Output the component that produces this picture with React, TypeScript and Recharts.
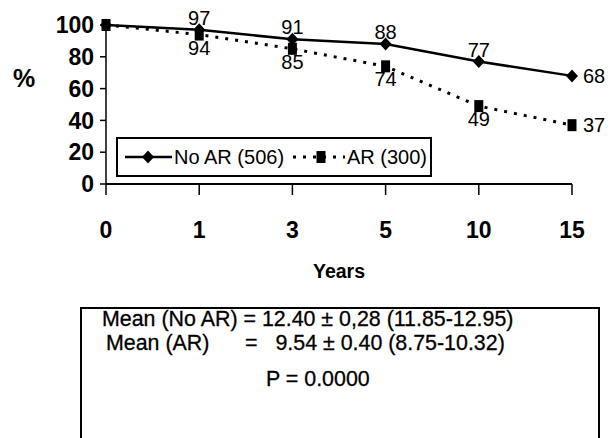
import React from "react";
import { LineChart, Line, XAxis, YAxis, Legend, LabelList } from "recharts";

const years = ["0", "1", "3", "5", "10", "15"];
const noAR = [100, 97, 91, 88, 77, 68];
const ar = [100, 94, 85, 74, 49, 37];
const yTicks = [0, 20, 40, 60, 80, 100];
const seriesNames = ["No AR (506)", "AR (300)"];
const statLines = [
  "Mean (No AR) = 12.40 \u00b1 0,28 (11.85-12.95)",
  "Mean (AR)      =   9.54 \u00b1 0.40 (8.75-10.32)",
  "P = 0.0000",
];

const data = years.map((y, i) => ({ year: y, noAR: noAR[i], ar: ar[i] }));

const FONT = "'Liberation Sans', Arial, sans-serif";

const Diamond = (props: any) => {
  const { cx, cy, index } = props;
  if (cx == null || cy == null) return <g key={`d-${index}`} />;
  return (
    <path
      key={`d-${index}`}
      d={`M${cx},${cy - 6.5} L${cx + 6},${cy} L${cx},${cy + 6.5} L${cx - 6},${cy} Z`}
      fill="#000"
    />
  );
};

const Square = (props: any) => {
  const { cx, cy, index } = props;
  if (cx == null || cy == null) return <g key={`s-${index}`} />;
  return <rect key={`s-${index}`} x={cx - 4.5} y={cy - 6} width={9} height={12} fill="#000" />;
};

const makeLabel = (below: boolean) => (props: any) => {
  const { x, y, value, index } = props;
  const last = years.length - 1;
  if (index === 0) return null;
  const common = {
    fontFamily: FONT,
    fontSize: 20,
    fill: "#000",
    dominantBaseline: "central" as const,
  };
  if (index === last) {
    return (
      <text x={x + 11} y={y} textAnchor="start" {...common}>
        {value}
      </text>
    );
  }
  return (
    <text x={x} y={below ? y + 13 : y - 12} textAnchor="middle" {...common}>
      {value}
    </text>
  );
};

const renderLegend = (props: any) => {
  const payload = props.payload || [];
  return (
    <div
      style={{
        width: 312,
        height: 36,
        border: "2px solid #000",
        background: "#fff",
        position: "relative",
        fontFamily: FONT,
        fontSize: 20,
      }}
    >
      <svg width={312} height={36} style={{ position: "absolute", left: 0, top: 0 }}>
        {payload.map((entry: any, i: number) => {
          const isAR = entry.dataKey === "ar";
          const x0 = isAR ? 175 : 7;
          const cy = 18;
          return (
            <g key={i}>
              {isAR ? (
                <>
                  <line x1={x0} y1={cy} x2={x0 + 52} y2={cy} stroke="#000" strokeWidth={3} strokeDasharray="3 7" />
                  <rect x={x0 + 23.5} y={cy - 6} width={9} height={12} fill="#000" />
                </>
              ) : (
                <>
                  <line x1={x0} y1={cy} x2={x0 + 47} y2={cy} stroke="#000" strokeWidth={2.5} />
                  <path d={`M${x0 + 23},${cy - 6.5} L${x0 + 29},${cy} L${x0 + 23},${cy + 6.5} L${x0 + 17},${cy} Z`} fill="#000" />
                </>
              )}
              <text
                x={isAR ? x0 + 54 : x0 + 49}
                y={cy}
                dominantBaseline="central"
                fontFamily={FONT}
                fontSize={20}
                fill="#000"
              >
                {entry.value}
              </text>
            </g>
          );
        })}
      </svg>
    </div>
  );
};

export default function App() {
  return (
    <div
      style={{
        position: "absolute",
        left: 0,
        top: 0,
        width: 616,
        height: 438,
        background: "#fff",
        overflow: "hidden",
      }}
    >
      <LineChart
        width={616}
        height={438}
        data={data}
        margin={{ top: 25, right: 44, left: 0, bottom: 158 }}
      >
        <XAxis
          dataKey="year"
          height={96}
          axisLine={{ stroke: "#000", strokeWidth: 2 }}
          tickLine={{ stroke: "#000", strokeWidth: 1.5 }}
          tickSize={11}
          tickMargin={27}
          tick={{ fontFamily: FONT, fontSize: 23, fontWeight: "bold", fill: "#000" }}
          interval={0}
          label={{
            value: "Years",
            position: "insideBottom",
            offset: 2,
            style: { fontFamily: FONT, fontSize: 19.5, fontWeight: "bold", fill: "#000" },
          }}
        />
        <YAxis
          width={106}
          domain={[0, 100]}
          ticks={yTicks}
          interval={0}
          axisLine={{ stroke: "#000", strokeWidth: 1.5 }}
          tickLine={{ stroke: "#000", strokeWidth: 1.5 }}
          tickSize={6}
          tickMargin={6}
          tick={{ fontFamily: FONT, fontSize: 23, fontWeight: "bold", fill: "#000" }}
          label={(p: any) => {
            const vb = p.viewBox || { x: 0, y: 25, height: 159 };
            return (
              <text
                x={vb.x + 13}
                y={vb.y + vb.height * 0.335}
                dominantBaseline="central"
                fontFamily={FONT}
                fontSize={25}
                fontWeight="bold"
                fill="#000"
              >
                %
              </text>
            );
          }}
        />
        <Legend
          layout="vertical"
          align="center"
          verticalAlign="middle"
          content={renderLegend}
          wrapperStyle={{ position: "absolute", left: 116, top: 137, width: 316, height: 40 }}
        />
        <Line
          name={seriesNames[0]}
          dataKey="noAR"
          stroke="#000"
          strokeWidth={2.5}
          dot={Diamond}
          activeDot={false}
          isAnimationActive={false}
        >
          <LabelList dataKey="noAR" content={makeLabel(false)} />
        </Line>
        <Line
          name={seriesNames[1]}
          dataKey="ar"
          stroke="#000"
          strokeWidth={3}
          strokeDasharray="3 7"
          dot={Square}
          activeDot={false}
          isAnimationActive={false}
        >
          <LabelList dataKey="ar" content={makeLabel(true)} />
        </Line>
      </LineChart>
      <div
        style={{
          position: "absolute",
          left: 80,
          top: 307,
          width: 516,
          height: 140,
          borderTop: "2px solid #000",
          borderLeft: "2px solid #000",
          borderRight: "2px solid #000",
          fontFamily: FONT,
          fontSize: 21.4,
          color: "#000",
          WebkitTextStroke: "0.3px #000",
        }}
      >
        <div style={{ position: "absolute", left: 20, top: -1, whiteSpace: "pre", lineHeight: "22px" }}>
          {statLines[0]}
        </div>
        <div style={{ position: "absolute", left: 24, top: 23, whiteSpace: "pre", lineHeight: "22px" }}>
          {statLines[1]}
        </div>
        <div style={{ position: "absolute", left: 184, top: 59, whiteSpace: "pre", lineHeight: "22px" }}>
          {statLines[2]}
        </div>
      </div>
    </div>
  );
}
